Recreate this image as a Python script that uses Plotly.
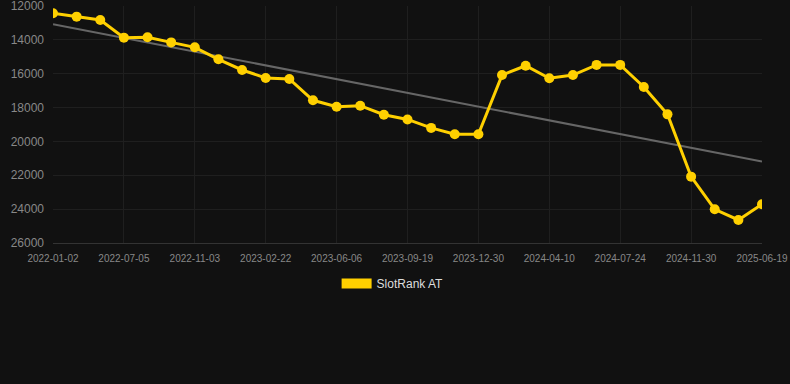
import numpy as np
import plotly.graph_objects as go

dates = [
    "2022-01-02", "2022-03-03", "2022-05-04",
    "2022-07-05", "2022-08-14", "2022-09-23",
    "2022-11-03", "2022-12-10", "2023-01-16",
    "2023-02-22", "2023-03-29", "2023-05-02",
    "2023-06-06", "2023-07-11", "2023-08-15",
    "2023-09-19", "2023-10-23", "2023-11-26",
    "2023-12-30", "2024-02-02", "2024-03-07",
    "2024-04-10", "2024-05-15", "2024-06-19",
    "2024-07-24", "2024-09-05", "2024-10-18",
    "2024-11-30", "2025-02-05", "2025-04-13",
    "2025-06-19",
]
rank = [
    12430, 12630, 12830, 13870, 13850, 14150, 14440, 15150, 15780, 16250,
    16310, 17570, 17950, 17890, 18420, 18700, 19200, 19580, 19580, 16080,
    15530, 16270, 16080, 15480, 15480, 16780, 18400, 22080, 24010, 24640,
    23710,
]
tick_labels = dates[::3]
y_ticks = [12000, 14000, 16000, 18000, 20000, 22000, 24000, 26000]

idx = np.arange(len(rank))
slope, intercept = np.polyfit(idx, rank, 1)
trend = [intercept, intercept + slope * idx[-1]]

fig = go.Figure()
fig.add_trace(go.Scatter(
    x=[dates[0], dates[-1]], y=trend, mode="lines",
    line=dict(color="#666666", width=2), showlegend=False, hoverinfo="skip",
))
fig.add_trace(go.Scatter(
    x=dates, y=rank, mode="lines+markers", name="SlotRank AT",
    line=dict(color="#FFD000", width=3),
    marker=dict(color="#FFD000", size=10),
    showlegend=False,
))
fig.add_trace(go.Scatter(
    x=[None], y=[None], mode="lines", name="SlotRank AT",
    line=dict(color="#FFD000", width=11),
))

fig.update_layout(
    width=790, height=384,
    paper_bgcolor="#111111", plot_bgcolor="#111111",
    margin=dict(l=53, r=28, t=6, b=141),
    font=dict(family="Liberation Sans, Arial, sans-serif", color="#999999"),
    showlegend=True,
    legend=dict(
        orientation="h", x=0.479, xanchor="center", y=-0.11, yanchor="top",
        font=dict(size=12, color="#dddddd"), bgcolor="rgba(0,0,0,0)",
    ),
    xaxis=dict(
        type="category", categoryorder="array", categoryarray=dates,
        range=[0, len(dates) - 1], automargin=False,
        tickmode="array", tickvals=tick_labels, ticktext=tick_labels,
        tickfont=dict(size=10, color="#888888"),
        showgrid=True, gridcolor="#1f1f1f", gridwidth=1,
        showline=True, linecolor="#333333", zeroline=False,
        ticks="", ticklabelstandoff=6, ticklabeloverflow="allow",
    ),
    yaxis=dict(
        range=[26000, 12000], tickvals=y_ticks,
        ticktext=[str(v) for v in y_ticks], automargin=False,
        tickfont=dict(size=12, color="#888888"),
        showgrid=True, gridcolor="#1f1f1f", gridwidth=1,
        zeroline=False, ticks="", ticklabelstandoff=8,
        ticklabeloverflow="allow",
    ),
)

fig.write_html(
    "out.html",
    config={"displayModeBar": False},
    post_script="document.body.style.margin='0';document.body.style.background='#111111';",
)
